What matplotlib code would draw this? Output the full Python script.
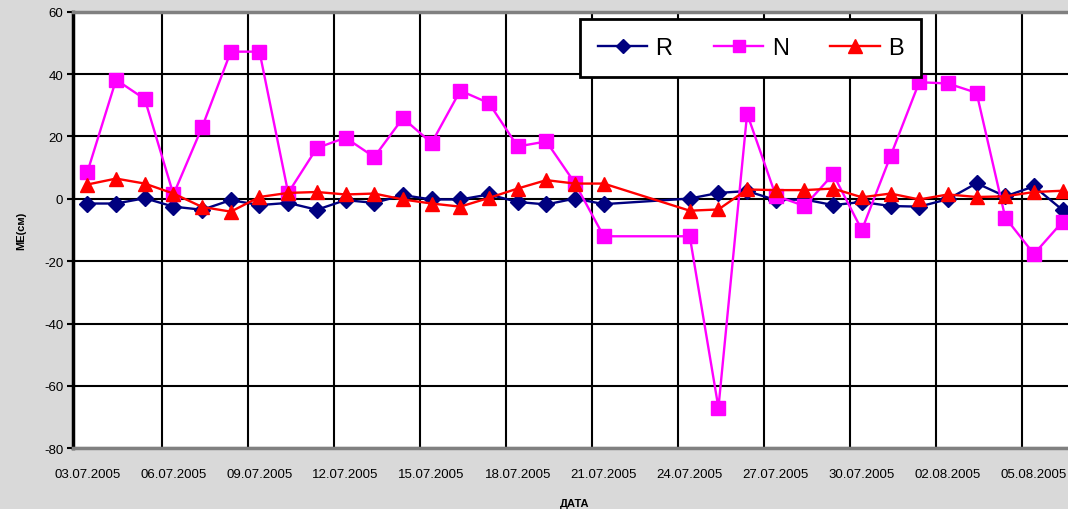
import pandas as pd
import matplotlib
matplotlib.use("Agg")
import matplotlib.pyplot as plt
import matplotlib.dates as mdates
import numpy as np

plt.rcParams["font.family"] = ["Liberation Sans", "DejaVu Sans"]
plt.rcParams["axes.unicode_minus"] = False

# dates of the observations (22.07 and 23.07 are missing)
dates = pd.to_datetime(
    [f"{d:02d}.07.2005" for d in range(3, 22)]
    + [f"{d:02d}.07.2005" for d in range(24, 32)]
    + [f"{d:02d}.08.2005" for d in range(1, 7)],
    format="%d.%m.%Y",
)

R = [-1.5, -1.5, 0.2, -2.5, -3.5, -0.4, -2, -1.3, -3.5, -0.4, -1.3, 1.2, -0.2,
     -0.2, 1.4, -1, -1.8, 0.1, -1.7,
     0.1, 1.9, 2.5, -0.4, -0.2, -2, -1, -2.3, -2.5, -0.1, 5, 0.8, 4, -3.6]
N = [8.6, 38.2, 32, 1.4, 23, 47.2, 47.2, 1.9, 16.3, 19.6, 13.4, 25.9, 17.9,
     34.7, 30.7, 16.8, 18.4, 5, -12,
     -12, -67, 27.3, 1, -2.3, 7.9, -10, 13.7, 37.4, 37, 34, -6, -17.7, -7.3]
B = [4.6, 6.5, 4.9, 1.7, -2.6, -4.1, 0.6, 1.9, 2.2, 1.4, 1.7, -0.2, -1.5,
     -2.5, 0.3, 3.3, 6, 4.9, 4.9,
     -3.8, -3.4, 3, 2.8, 2.8, 3.3, 0.5, 1.7, -0.2, 1.4, 0.6, 0.8, 2.2, 2.6]

yticks = [-80, -60, -40, -20, 0, 20, 40, 60]

fig = plt.figure(figsize=(10.68, 5.10), dpi=100, facecolor="#d9d9d9")
ax = fig.add_axes([0.0684, 0.119, 0.94, 0.856])
ax.set_facecolor("white")

ax.plot(dates, R, color="#000080", lw=1.7, marker="D", markersize=8, label="R", zorder=3)
ax.plot(dates, N, color="#ff00ff", lw=1.7, marker="s", markersize=9.5, label="N", zorder=4)
ax.plot(dates, B, color="#ff0000", lw=1.7, marker="^", markersize=10.5, label="B", zorder=5)

start = mdates.date2num(dates[0])
ax.set_xlim(start - 0.5, start + 34.5)
ax.set_ylim(-80, 60)

label_days = np.arange(0, 35, 3)
ax.set_xticks(start + label_days)
ax.xaxis.set_major_formatter(mdates.DateFormatter("%d.%m.%Y"))
ax.set_xticks(start + label_days[1:] - 0.4, minor=True)
ax.tick_params(axis="x", which="both", length=0, labelsize=9.5, pad=14)
ax.grid(True, which="minor", axis="x", color="black", lw=1.5)

ax.set_yticks(yticks)
ax.tick_params(axis="y", length=4, width=1.5, labelsize=9.5, pad=3)
ax.grid(True, which="major", axis="y", color="black", lw=1.5)
ax.set_axisbelow(True)

ax.spines["left"].set_linewidth(2.5)
ax.spines["left"].set_color("black")
ax.spines["bottom"].set_color("#808080")
ax.spines["bottom"].set_linewidth(2.5)
ax.spines["top"].set_color("#808080")
ax.spines["top"].set_linewidth(2.5)
ax.spines["right"].set_visible(False)

ax.set_xlabel("ДАТА", fontsize=8, fontweight="bold", labelpad=13)
ax.set_ylabel("ME(см)", fontsize=8, fontweight="bold", labelpad=13)

leg = ax.legend(loc="upper left", bbox_to_anchor=(0.505, 0.983), borderaxespad=0,
                ncol=3, fontsize=17, frameon=True, fancybox=False, edgecolor="black",
                framealpha=1, handlelength=2.1, columnspacing=1.75, borderpad=0.75,
                handletextpad=0.35, markerscale=0.9)
leg.get_frame().set_linewidth(2)

fig.savefig("out.png", dpi=100, facecolor=fig.get_facecolor())
